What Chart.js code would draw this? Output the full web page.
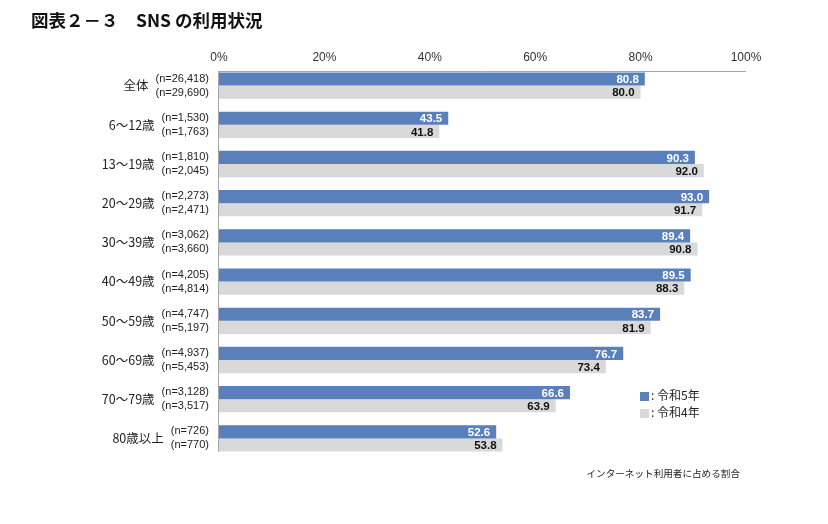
<!DOCTYPE html>
<html>
<head>
<meta charset="utf-8">
<script src="https://cdn.jsdelivr.net/npm/chart.js@4"></script>
<style>
  body { margin: 0; background: #fff; }
  #wrap { position: relative; width: 828px; height: 524px; }
  #title { position: absolute; left: 31px; top: 7px; font: bold 17.5px "Noto Sans CJK JP", sans-serif; color: #111; white-space: pre; }
  .leg { position: absolute; left: 640px; font: 12px "Noto Sans CJK JP", sans-serif; color: #222; }
  .leg span { display: inline-block; width: 9px; height: 9px; margin-right: 2px; vertical-align: -1px; }
  #note { position: absolute; right: 88px; top: 466px; font: 9.6px "Noto Sans CJK JP", sans-serif; color: #222; }
</style>
</head>
<body>
<div id="wrap">
  <canvas id="chart"></canvas>
  <div id="title">図表２－３　SNS の利用状況</div>
  <div class="leg" id="leg5" style="top:386px"></div>
  <div class="leg" id="leg4" style="top:403px"></div>
  <div id="note">インターネット利用者に占める割合</div>
</div>
<script>
//------------------------------------------------------------------------------
var categories = ["全体", "6～12歳", "13～19歳", "20～29歳", "30～39歳",
                  "40～49歳", "50～59歳", "60～69歳", "70～79歳", "80歳以上"];
var r5 = [80.8, 43.5, 90.3, 93.0, 89.4, 89.5, 83.7, 76.7, 66.6, 52.6];
var r4 = [80.0, 41.8, 92.0, 91.7, 90.8, 88.3, 81.9, 73.4, 63.9, 53.8];
var n5 = ["26,418", "1,530", "1,810", "2,273", "3,062", "4,205", "4,747", "4,937", "3,128", "726"];
var n4 = ["29,690", "1,763", "2,045", "2,471", "3,660", "4,814", "5,197", "5,453", "3,517", "770"];
var r5_t = "令和5年";
var r4_t = "令和4年";
var blue = "#5a80bc";
var gray = "#d9d9d9";
//------------------------------------------------------------------------------

document.getElementById("leg5").innerHTML = '<span style="background:' + blue + '"></span>: ' + r5_t;
document.getElementById("leg4").innerHTML = '<span style="background:' + gray + '"></span>: ' + r4_t;

var extras = {
  id: "extras",
  afterDatasetsDraw: function(chart) {
    var c = chart.ctx;
    var area = chart.chartArea;
    var m0 = chart.getDatasetMeta(0).data;
    var m1 = chart.getDatasetMeta(1).data;
    var top = Math.round(m0[0].y - m0[0].height / 2) - 1;
    var bottom = Math.round(m1[m1.length - 1].y + m1[m1.length - 1].height / 2);

    c.save();
    // axis lines
    c.strokeStyle = "#a6a6a6";
    c.lineWidth = 1;
    c.beginPath();
    c.moveTo(area.left, top + 0.5);
    c.lineTo(area.right, top + 0.5);
    c.moveTo(area.left - 0.5, top);
    c.lineTo(area.left - 0.5, bottom);
    c.stroke();

    // value labels inside the bar ends
    c.font = "bold 11.5px 'Liberation Sans', Arial, sans-serif";
    c.textAlign = "right";
    c.textBaseline = "middle";
    [m0, m1].forEach(function(meta, d) {
      var vals = d === 0 ? r5 : r4;
      c.fillStyle = d === 0 ? "#ffffff" : "#111111";
      meta.forEach(function(bar, i) {
        c.fillText(vals[i].toFixed(1), bar.x - 6, bar.y + 1);
      });
    });

    // category labels with sample sizes
    var y = chart.scales.y;
    var nx = area.left - 10;
    categories.forEach(function(name, i) {
      var cy = y.getPixelForValue(i);
      c.font = "11px 'Liberation Sans', Arial, sans-serif";
      c.fillStyle = "#222";
      c.textAlign = "right";
      var a = "(n=" + n5[i] + ")";
      var b = "(n=" + n4[i] + ")";
      c.fillText(a, nx, cy - 7);
      c.fillText(b, nx, cy + 7);
      var w = Math.max(c.measureText(a).width, c.measureText(b).width);
      c.font = "12.5px 'Noto Sans CJK JP', sans-serif";
      c.fillText(name, nx - w - 7, cy);
    });
    c.restore();
  }
};

var ctx = document.getElementById("chart");
var chart = new Chart(ctx, {
  type: "bar",
  data: {
    labels: categories,
    datasets: [{
      label: r5_t,
      backgroundColor: blue,
      data: r5
    }, {
      label: r4_t,
      backgroundColor: gray,
      data: r4
    }]
  },
  options: {
    indexAxis: "y",
    responsive: true,
    maintainAspectRatio: false,
    animation: false,
    layout: { padding: { left: 219, right: 82, top: 46, bottom: 66 } },
    datasets: { bar: { categoryPercentage: 0.67, barPercentage: 1.0 } },
    plugins: {
      legend: { display: false },
      tooltip: { enabled: false }
    },
    scales: {
      x: {
        position: "top",
        min: 0,
        max: 100,
        afterFit: function(s) { s.height = 20; },
        ticks: {
          stepSize: 20,
          padding: 1,
          color: "#333",
          font: { size: 12, family: "'Liberation Sans', Arial, sans-serif" },
          callback: function(v) { return v + "%"; }
        },
        grid: { display: false, drawTicks: false },
        border: { display: false }
      },
      y: {
        afterFit: function(s) { s.width = 0; },
        ticks: { display: false },
        grid: { display: false },
        border: { display: false }
      }
    }
  },
  plugins: [extras]
});
</script>
</body>
</html>
